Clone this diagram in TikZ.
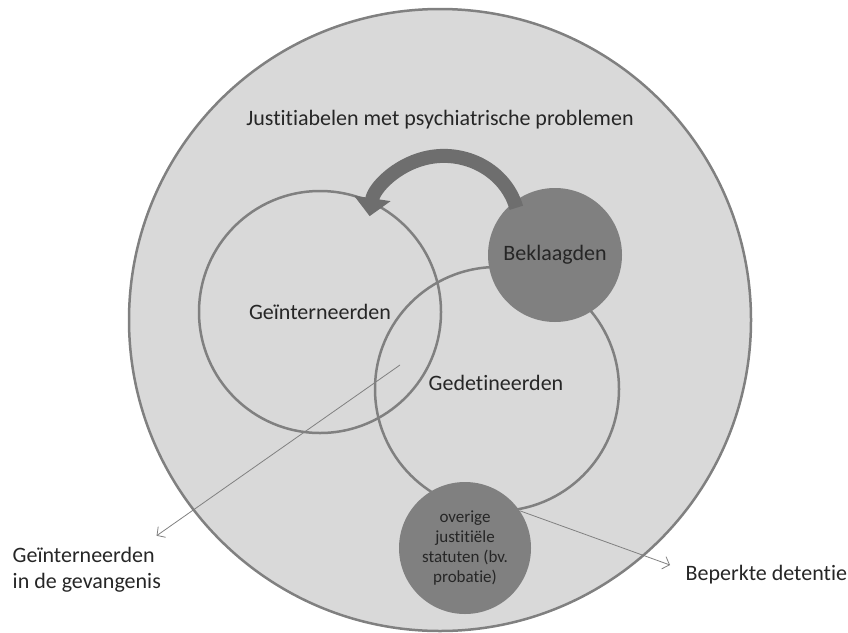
\documentclass[tikz,border=0pt]{standalone}
\usepackage{fontspec}
\setmainfont{Carlito}[Ligatures={NoCommon,NoContextual,NoRare}]
\usetikzlibrary{positioning, arrows.meta}

\definecolor{ringgray}{RGB}{128,128,128}
\definecolor{vlakgray}{RGB}{217,217,217}
\definecolor{blobgray}{RGB}{128,128,128}
\definecolor{pijlgray}{RGB}{110,110,110}

\begin{document}
\begin{tikzpicture}[x=1pt, y=1pt, thick, text=black!85,
    groot/.style={font=\fontsize{22}{26}\selectfont},
    klein/.style={font=\fontsize{17}{20}\selectfont},
    ring/.style={draw=ringgray, line width=2.5pt, circle},
    wijzer/.style={draw=ringgray, line width=0.8pt,
        -{Straight Barb[length=6pt, width=13pt]}}
]
    \useasboundingbox (0,0) rectangle (848,-632);

    \node [ring,
        fill=vlakgray,
        minimum size=622pt
    ] (justitiabelen) at (440,-320) {};

    \node [groot] (titel) at (440,-120) {Justitiabelen met psychiatrische problemen};

    \node [ring,
        groot,
        minimum size=242pt
    ] (geinterneerden) at (320,-312) {Geïnterneerden};

    \node [ring,
        minimum size=244pt
    ] (gedetineerden) at (497,-389) {};
    \node [groot] (gedetineerdentekst) at (496,-383) {Gedetineerden};

    \node [circle,
        fill=blobgray,
        groot,
        minimum size=134pt
    ] (beklaagden) at (555,-255) {Beklaagden};

    \node [circle,
        fill=blobgray,
        klein,
        inner sep=0pt,
        align=center,
        minimum size=132pt
    ] (overige) at (465,-548) {overige\\justitiële\\statuten (bv.\\probatie)};

    % labels buiten de cirkel
    \node [groot,
        align=left,
        anchor=west
    ] (gevangenis) at (9,-570) {Geïnterneerden\\in de gevangenis};

    \node [groot,
        anchor=west
    ] (beperkt) at (682,-575) {Beperkte detentie};

    % pijlen
    \draw [draw=pijlgray,
        line width=14pt,
        -{Triangle[length=18pt, width=36pt]}
    ] ([yshift=-8pt]beklaagden.125) arc[start angle=15, end angle=172, x radius=75, y radius=70];

    \coordinate (overlap) at (400,-365);
    \draw [wijzer] (overlap) -- ([xshift=-8pt, yshift=8pt]gevangenis.north east);
    \draw [wijzer] (overige.34) -- ([xshift=-12pt, yshift=10pt]beperkt.west);

\end{tikzpicture}
\end{document}
